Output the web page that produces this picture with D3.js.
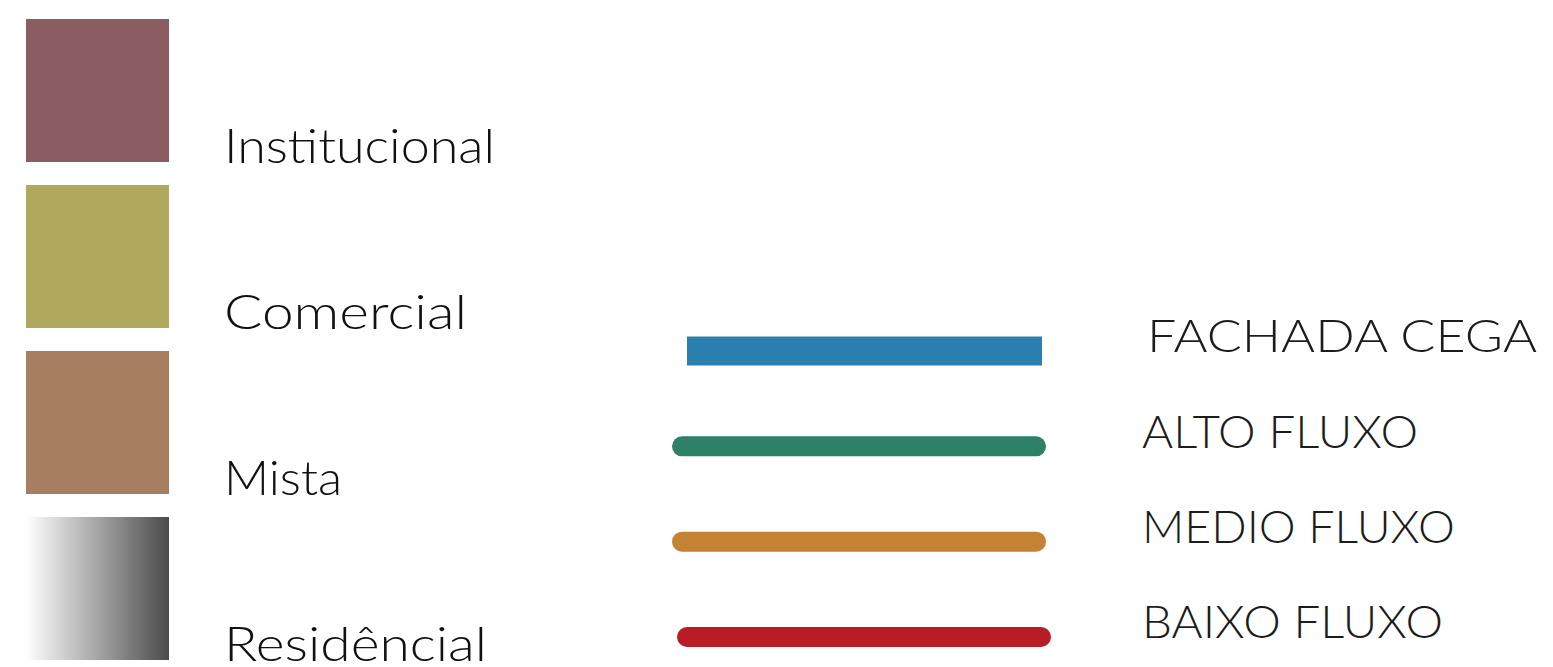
<!DOCTYPE html>
<html>
<head>
<meta charset="utf-8">
<script src="https://cdn.jsdelivr.net/npm/d3@7"></script>
<style>
  html, body { margin: 0; padding: 0; background: #fff; }
  svg { display: block; }
  text { font-family: "Century Gothic", Lato, "DejaVu Sans", sans-serif; font-weight: 300; fill: #111; }
</style>
</head>
<body>
<div id="legend"></div>
<script>
// land use categories (left column)
const useCategories = ['Institucional', 'Comercial', 'Mista', 'Residêncial'];
const useColors = ['#8a5d62', '#b0a95e', '#a87e60', 'gradient'];

// street flow categories (right column)
const flowCategories = ['FACHADA CEGA', 'ALTO FLUXO', 'MEDIO FLUXO', 'BAIXO FLUXO'];
const flowColors = ['#2b80b0', '#2e8166', '#c58134', '#ba1c25'];

const width = 1553;
const height = 667;

const svg = d3.select('#legend')
  .append('svg')
  .attr('width', width)
  .attr('height', height);

// gradient for the residential swatch
const grad = svg.append('defs')
  .append('linearGradient')
  .attr('id', 'resGrad')
  .attr('x1', '0%').attr('x2', '100%')
  .attr('y1', '0%').attr('y2', '0%');
grad.append('stop').attr('offset', '0%').attr('stop-color', '#ffffff');
grad.append('stop').attr('offset', '100%').attr('stop-color', '#4a4a4a');

const yUse = d3.scaleBand()
  .domain(useCategories)
  .range([19, 660])
  .paddingInner(0.1386)
  .paddingOuter(0);

const swatchX = 26;
const swatchW = 143;

const useRows = svg.selectAll('.use')
  .data(useCategories)
  .enter()
  .append('g')
  .attr('class', 'use');

useRows.append('rect')
  .attr('x', swatchX)
  .attr('y', d => yUse(d))
  .attr('width', swatchW)
  .attr('height', yUse.bandwidth())
  .attr('fill', (d, i) => useColors[i] === 'gradient' ? 'url(#resGrad)' : useColors[i]);

// label widths, the font here is a stand-in
const useWidths = [271, 243, 118, 263];
useRows.append('text')
  .attr('x', 224)
  .attr('y', d => yUse(d) + yUse.bandwidth() + 1)
  .attr('font-size', 48)
  .attr('textLength', (d, i) => useWidths[i])
  .attr('lengthAdjust', 'spacingAndGlyphs')
  .text(d => d);

// flow lines
const yFlow = d3.scalePoint()
  .domain(flowCategories)
  .range([351, 637]);

const flowRows = svg.selectAll('.flow')
  .data(flowCategories)
  .enter()
  .append('g')
  .attr('class', 'flow');

flowRows.append('line')
  .attr('x1', (d, i) => i === 0 ? 687 : (i === 3 ? 687 : 682))
  .attr('x2', (d, i) => i === 0 ? 1042 : (i === 3 ? 1041 : 1036))
  .attr('y1', d => yFlow(d))
  .attr('y2', d => yFlow(d))
  .attr('stroke', (d, i) => flowColors[i])
  .attr('stroke-width', (d, i) => i === 0 ? 29 : 20)
  .attr('stroke-linecap', (d, i) => i === 0 ? 'butt' : 'round');

const flowWidths = [390, 276, 313, 301];
flowRows.append('text')
  .attr('x', (d, i) => i === 0 ? 1147 : 1142)
  .attr('y', (d, i) => yFlow(d) + (i === 1 ? 2 : 1))
  .attr('font-size', 46)
  .attr('textLength', (d, i) => flowWidths[i])
  .attr('lengthAdjust', 'spacingAndGlyphs')
  .style('fill', '#1c1c1c')
  .text(d => d);
</script>
</body>
</html>
